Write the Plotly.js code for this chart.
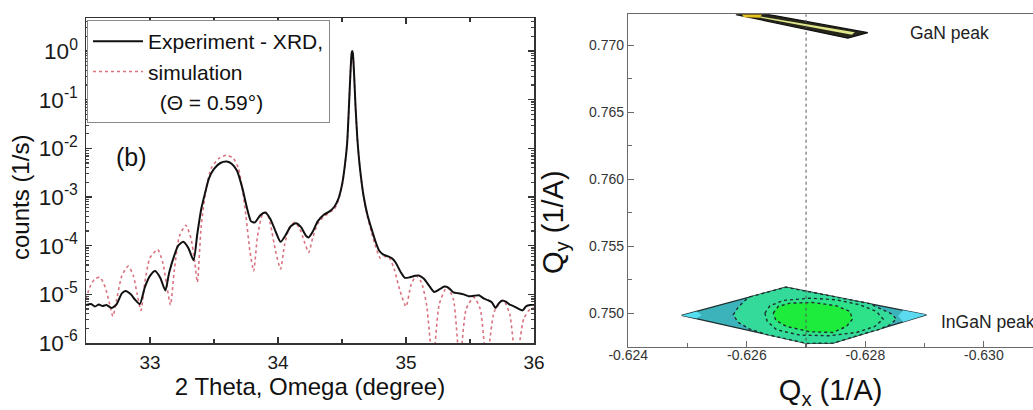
<!DOCTYPE html>
<html><head><meta charset="utf-8">
<script src="https://cdn.plot.ly/plotly-3.0.1.min.js"></script>
<style>html,body{margin:0;padding:0;background:#fff;}#chart{width:1033px;height:410px;}</style>
</head><body><div id="chart"></div>
<script>
const FONT = 'Liberation Sans, Arial, Helvetica, sans-serif';

// ---------- left panel: XRD 2theta-omega scan ----------
const expTheta = [32.50,32.54,32.57,32.60,32.63,32.66,32.70,32.74,32.78,32.81,32.85,32.88,32.92,32.96,33.00,33.04,33.08,33.12,33.15,33.19,33.22,33.26,33.30,33.34,33.37,33.40,33.43,33.46,33.50,33.55,33.60,33.64,33.68,33.72,33.76,33.79,33.82,33.86,33.90,33.94,33.98,34.02,34.06,34.10,34.14,34.18,34.22,34.24,34.27,34.31,34.36,34.40,34.44,34.47,34.50,34.52,34.54,34.555,34.565,34.575,34.58,34.585,34.595,34.605,34.62,34.64,34.67,34.70,34.73,34.76,34.79,34.82,34.86,34.89,34.92,34.96,34.99,35.03,35.07,35.10,35.14,35.18,35.22,35.26,35.30,35.33,35.37,35.41,35.45,35.49,35.53,35.57,35.61,35.64,35.67,35.70,35.72,35.75,35.78,35.81,35.84,35.88,35.91,35.94,35.97,36.00];
const expCounts = [6.03e-6,6.31e-6,5.62e-6,6.17e-6,5.75e-6,6.03e-6,5.25e-6,6.31e-6,1.05e-5,1.17e-5,1.0e-5,7.94e-6,6.31e-6,1.41e-5,2.40e-5,3.02e-5,2.19e-5,1.20e-5,2.82e-5,6.31e-5,1.0e-4,1.20e-4,8.91e-5,5.01e-5,1.78e-4,5.62e-4,1.20e-3,2.40e-3,3.80e-3,5.01e-3,5.37e-3,4.79e-3,3.47e-3,1.58e-3,5.62e-4,3.16e-4,3.02e-4,4.17e-4,4.79e-4,3.55e-4,2.0e-4,1.20e-4,1.66e-4,2.51e-4,2.88e-4,2.40e-4,1.58e-4,1.48e-4,1.91e-4,3.16e-4,4.37e-4,5.01e-4,6.31e-4,8.91e-4,1.78e-3,3.98e-3,1.26e-2,7.94e-2,0.316,0.891,1.0,0.891,0.316,7.94e-2,1.58e-2,3.98e-3,1.0e-3,4.17e-4,2.24e-4,1.26e-4,7.94e-5,6.61e-5,6.03e-5,5.50e-5,4.47e-5,2.82e-5,2.19e-5,2.24e-5,2.40e-5,2.45e-5,2.09e-5,1.51e-5,1.12e-5,1.26e-5,1.45e-5,1.38e-5,1.10e-5,1.05e-5,1.0e-5,9.12e-6,9.33e-6,9.55e-6,8.13e-6,7.59e-6,6.92e-6,5.25e-6,6.31e-6,7.41e-6,7.08e-6,6.17e-6,5.75e-6,5.01e-6,4.68e-6,5.75e-6,6.03e-6,6.03e-6];

const simTheta = [32.50,32.53,32.57,32.61,32.65,32.68,32.71,32.74,32.78,32.83,32.87,32.90,32.93,32.96,33.00,33.06,33.10,33.13,33.16,33.19,33.23,33.28,33.32,33.35,33.37,33.40,33.44,33.48,33.54,33.60,33.65,33.69,33.72,33.75,33.78,33.81,33.84,33.88,33.91,33.94,33.98,34.02,34.05,34.09,34.13,34.17,34.21,34.24,34.27,34.31,34.36,34.40,34.44,34.47,34.50,34.52,34.54,34.555,34.565,34.575,34.58,34.585,34.595,34.605,34.62,34.64,34.67,34.70,34.73,34.76,34.80,34.83,34.87,34.91,34.95,35.00,35.04,35.08,35.12,35.16,35.21,35.26,35.32,35.37,35.42,35.47,35.53,35.58,35.63,35.69,35.76,35.81,35.86,35.92,35.97,36.00];
const simCounts = [7.94e-6,1.41e-5,2.09e-5,2.24e-5,1.41e-5,7.08e-6,3.55e-6,7.94e-6,2.40e-5,3.80e-5,2.40e-5,1.0e-5,4.68e-6,1.78e-5,5.62e-5,8.32e-5,4.47e-5,1.58e-5,6.03e-6,3.16e-5,1.58e-4,2.63e-4,1.41e-4,4.47e-5,1.78e-5,2.51e-4,1.58e-3,3.98e-3,6.31e-3,7.24e-3,6.31e-3,3.98e-3,1.58e-3,3.98e-4,7.94e-5,3.02e-5,1.58e-4,4.47e-4,4.79e-4,2.82e-4,7.94e-5,3.31e-5,1.0e-4,2.40e-4,3.02e-4,2.24e-4,1.12e-4,7.24e-5,1.41e-4,2.82e-4,3.98e-4,4.79e-4,5.62e-4,8.32e-4,1.66e-3,3.80e-3,1.20e-2,7.59e-2,0.302,0.871,0.98,0.871,0.302,7.59e-2,1.51e-2,3.80e-3,9.55e-4,3.80e-4,1.91e-4,1.0e-4,5.50e-5,6.03e-5,5.62e-5,3.16e-5,1.26e-5,5.62e-6,1.58e-5,2.40e-5,1.78e-5,6.31e-6,3.98e-7,6.31e-6,1.41e-5,7.94e-6,3.98e-7,5.01e-6,8.71e-6,5.01e-6,3.98e-7,4.47e-6,7.59e-6,3.98e-6,3.98e-7,3.16e-6,5.01e-6,5.25e-6];

const legendNames = ['Experiment - XRD,', 'simulation', '\u00A0\u00A0(\u0398 = 0.59\u00B0)'];
const panelLabel = '(b)';
const countExponents = [-6,-5,-4,-3,-2,-1,0];

// ---------- right panel: reciprocal space map (contour levels read as outlines) ----------
const inganOuterQx = [-0.624900,-0.626659,-0.629031,-0.627457,-0.627008];
const inganOuterQy = [0.749831,0.751942,0.749881,0.747770,0.747744];
const inganTipLeftQx = [-0.624900,-0.625153,-0.625237,-0.625153];
const inganTipLeftQy = [0.749831,0.750117,0.749856,0.749595];
const inganTipRightQx = [-0.629031,-0.628638,-0.628554,-0.628638];
const inganTipRightQy = [0.749881,0.750223,0.749806,0.749352];
const inganLevel2Qx = [-0.626052,-0.626659,-0.628076,-0.628273,-0.628441,-0.628526,-0.628413,-0.628216,-0.628076,-0.627457,-0.627008,-0.626333,-0.626052,-0.625855,-0.625771,-0.625855,-0.625968];
const inganLevel2Qy = [0.751215,0.751942,0.750710,0.750303,0.749955,0.749558,0.749136,0.748763,0.748599,0.747770,0.747744,0.748413,0.748813,0.749309,0.749881,0.750452,0.750948];
const inganLevel3Qx = [-0.626305,-0.626390,-0.626614,-0.627064,-0.627514,-0.627907,-0.628188,-0.628301,-0.628160,-0.627851,-0.627401,-0.626895,-0.626502,-0.626345];
const inganLevel3Qy = [0.750005,0.750551,0.750948,0.751123,0.750998,0.750626,0.750129,0.749558,0.749011,0.748564,0.748316,0.748366,0.748763,0.749384];
const inganLevel4Qx = [-0.626446,-0.626530,-0.626727,-0.627120,-0.627514,-0.627739,-0.627784,-0.627682,-0.627457,-0.627064,-0.626671,-0.626491];
const inganLevel4Qy = [0.750005,0.750502,0.750750,0.750800,0.750551,0.750129,0.749558,0.749011,0.748564,0.748614,0.749011,0.749458];
const ganOuterQx = [-0.625816,-0.626373,-0.628042,-0.627705];
const ganOuterQy = [0.77228,0.77228,0.770931,0.770522];
const ganInnerQx = [-0.626150,-0.627823,-0.627772,-0.626250];
const ganInnerQy = [0.772200,0.770969,0.770782,0.772020];
const ganSpotQx = [-0.625917,-0.626255,-0.626221,-0.625951];
const ganSpotQy = [0.77228,0.77228,0.772049,0.772086];
const qxReference = -0.627;
const qxTickVals = [-0.624,-0.626,-0.628,-0.630];
const qxTickText = ['-0.624','-0.626','-0.628','-0.630'];
const peakNames = ['GaN peak','InGaN peak'];

// labels "10^-n" with a plain hyphen, as in the reference
const countAlias = {};
countExponents.forEach(function(p){
  const plotlyText = p === 0 ? '1' : (p === 1 ? '10' : '10<sup>\u2212' + Math.abs(p) + '</sup>');
  countAlias[plotlyText] = '10<sup>' + (p < 0 ? '-' : '') + Math.abs(p) + '</sup>';
});

function poly(xs, ys, fill, lineColor, dash, width) {
  return {x: xs.concat([xs[0]]), y: ys.concat([ys[0]]), xaxis:'x2', yaxis:'y2', mode:'lines',
    fill:'toself', fillcolor: fill, line:{color: lineColor, width: width, dash: dash},
    showlegend:false, hoverinfo:'skip'};
}

const data = [
  {x: simTheta, y: simCounts, name: legendNames[1], mode:'lines', line:{color:'#d9737f', width:1.6, dash:'dot', shape:'spline', smoothing:0.6}, xaxis:'x', yaxis:'y', legendrank:2},
  {x: expTheta, y: expCounts, name: legendNames[0], mode:'lines', line:{color:'#111', width:2, shape:'spline', smoothing:0.6}, xaxis:'x', yaxis:'y', legendrank:1},
  {x: [null], y: [null], name: legendNames[2], mode:'lines', line:{color:'rgba(0,0,0,0)', width:0}, xaxis:'x', yaxis:'y', legendrank:3, hoverinfo:'skip'},
  poly(inganOuterQx, inganOuterQy, '#3cb2ba', '#1e2e2e', 'solid', 1.3),
  poly(inganTipLeftQx, inganTipLeftQy, '#55e0f2', 'rgba(0,0,0,0)', 'solid', 0),
  poly(inganTipRightQx, inganTipRightQy, '#5cdaf0', 'rgba(0,0,0,0)', 'solid', 0),
  poly(inganLevel2Qx, inganLevel2Qy, '#34da9a', '#1e2e2e', 'dot', 1.4),
  poly(inganLevel3Qx, inganLevel3Qy, '#2de288', '#1e2e2e', 'dot', 1.4),
  poly(inganLevel4Qx, inganLevel4Qy, '#1eec3c', '#1e2e2e', 'dot', 1.4),
  poly(ganOuterQx, ganOuterQy, '#26261a', '#111', 'solid', 1.2),
  poly(ganInnerQx, ganInnerQy, '#dfe68c', 'rgba(0,0,0,0)', 'solid', 0),
  poly(ganSpotQx, ganSpotQy, '#e8c21c', 'rgba(0,0,0,0)', 'solid', 0)
];

const H = 410, W = 1033;
const layout = {
  width: W, height: H, margin:{l:0,r:0,t:0,b:0}, paper_bgcolor:'#fff', plot_bgcolor:'#fff',
  font:{family: FONT, color:'#1a1a1a'},
  showlegend: true,
  legend:{x: 87/W, y: 1-20/H, xanchor:'left', yanchor:'top', bgcolor:'#fff', bordercolor:'#8a8a8a', borderwidth:1,
    font:{size:21, family:FONT, color:'#111'}, itemwidth:50, traceorder:'normal'},
  xaxis:{domain:[86/W, 534/W], range:[32.5, 36], anchor:'y', showgrid:false, zeroline:false,
    showline:true, linecolor:'#333', linewidth:1.5, mirror:'allticks', ticks:'inside', ticklen:6, tickwidth:1.2, tickcolor:'#333',
    tickmode:'linear', tick0:33, dtick:1, tickfont:{size:19, family:FONT, color:'#1a1a1a'}, ticklabelstandoff:2,
    minor:{ticks:'inside', dtick:0.5, ticklen:4, tickcolor:'#333', showgrid:false},
    title:{text:'2 Theta, Omega (degree)', font:{size:24, family:FONT, color:'#111'}, standoff:4}},
  yaxis:{domain:[1-343/H, 1-18/H], type:'log', range:[-6, 0.68], anchor:'x', showgrid:false, zeroline:false,
    showline:true, linecolor:'#333', linewidth:1.5, mirror:'allticks', ticks:'inside', ticklen:6, tickwidth:1.2, tickcolor:'#333',
    tickmode:'linear', tick0:0, dtick:1, exponentformat:'power', showexponent:'all', labelalias: countAlias,
    tickfont:{size:18, family:FONT, color:'#1a1a1a'}, ticklabelstandoff:3,
    minor:{ticks:'inside', dtick:'D1', ticklen:3, tickcolor:'#444', showgrid:false}},
  xaxis2:{domain:[628.3/W, 1], range:[-0.624, -0.63083], anchor:'y2', showgrid:false, zeroline:false,
    showline:true, linecolor:'#6a6a6a', linewidth:1.5, mirror:true, ticks:'inside', ticklen:6, tickwidth:1.2, tickcolor:'#6a6a6a',
    tickmode:'array', tickvals: qxTickVals, ticktext: qxTickText, tickfont:{size:14, family:FONT, color:'#333'}, ticklabelstandoff:-5,
    minor:{ticks:'inside', tickmode:'linear', tick0:-0.624, dtick:0.001, ticklen:4, tickcolor:'#6a6a6a', showgrid:false},
    title:{text:'Q<sub>x</sub> (1/A)', font:{size:29, family:FONT, color:'#111'}, standoff:19}},
  yaxis2:{domain:[1-346.7/H, 1-14.3/H], range:[0.7475, 0.7723], anchor:'x2', showgrid:false, zeroline:false,
    showline:true, linecolor:'#6a6a6a', linewidth:1.5, mirror:false, ticks:'inside', ticklen:6, tickwidth:1.2, tickcolor:'#6a6a6a',
    tickmode:'linear', tick0:0.75, dtick:0.005, tickformat:'.3f', tickfont:{size:14, family:FONT, color:'#333'}, ticklabelstandoff:0,
    minor:{ticks:'inside', dtick:0.0025, ticklen:4, tickcolor:'#6a6a6a', showgrid:false}},
  shapes:[{type:'line', xref:'x2', yref:'y2 domain', x0:qxReference, x1:qxReference, y0:0, y1:1,
    line:{color:'#555', width:1, dash:'dot'}, layer:'above'}],
  annotations:[
    {text: panelLabel, xref:'paper', yref:'paper', x:131/W, y:1-157/H, showarrow:false, xanchor:'center', yanchor:'middle', font:{size:25, family:FONT, color:'#111'}},
    {text:'counts (1/s)', xref:'paper', yref:'paper', x:20/W, y:1-198/H, textangle:-90, showarrow:false, xanchor:'center', yanchor:'middle', font:{size:24, family:FONT, color:'#111'}},
    {text:'Q<sub>y</sub> (1/A)', xref:'paper', yref:'paper', x:555/W, y:1-222/H, textangle:-90, showarrow:false, xanchor:'center', yanchor:'middle', font:{size:29, family:FONT, color:'#111'}},
    {text: peakNames[0], xref:'paper', yref:'paper', x:908/W, y:1-33/H, showarrow:false, xanchor:'left', yanchor:'middle', font:{size:17.5, family:FONT, color:'#222'}},
    {text: peakNames[1], xref:'paper', yref:'paper', x:939/W, y:1-322/H, showarrow:false, xanchor:'left', yanchor:'middle', font:{size:17.5, family:FONT, color:'#222'}}
  ]
};

Plotly.newPlot('chart', data, layout, {staticPlot:true, displayModeBar:false});
</script></body></html>
